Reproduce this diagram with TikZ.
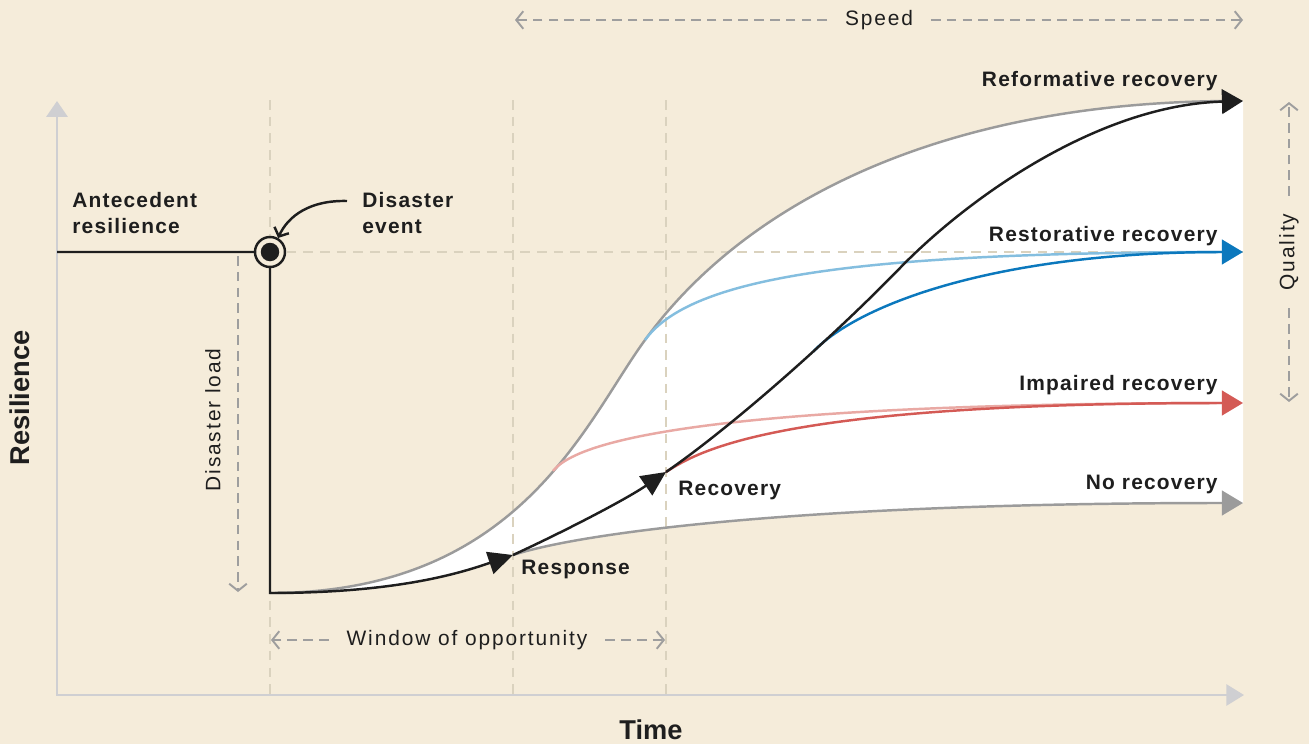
\documentclass[tikz,border=0pt]{standalone}
\usepackage{fontspec}
\setmainfont{Liberation Sans}
\newfontfamily\labelfont{Liberation Sans}[LetterSpace=5.8]
\newfontfamily\notefont{Liberation Sans}[LetterSpace=9.0]
\usetikzlibrary{arrows.meta,positioning}

\definecolor{paper}{HTML}{F5ECDA}
\definecolor{guidecol}{HTML}{DAD2BE}
\definecolor{axiscol}{HTML}{CFCFD2}
\definecolor{measurecol}{HTML}{9E9E9E}
\definecolor{curvegray}{HTML}{9B9B9B}
\definecolor{ink}{HTML}{1E1E1E}
\definecolor{paleblue}{HTML}{84BEDF}
\definecolor{deepblue}{HTML}{0B78BD}
\definecolor{palered}{HTML}{E9A9A4}
\definecolor{deepred}{HTML}{D45A55}

\tikzset{
  guide/.style={draw=guidecol, line width=1.1pt, dash pattern=on 5.5pt off 4pt},
  measure/.style={draw=measurecol, line width=1.1pt, dash pattern=on 5.5pt off 3.5pt},
  barbout/.style={-{Straight Barb[length=4pt,width=10pt]}},
  endtip/.style={-{Triangle[length=12pt,width=14pt]}},
  midtip/.style={-{Triangle[length=14pt,width=13pt]}},
  trace/.style={line width=1.4pt},
  boldlabel/.style={font=\fontsize{11.9}{14.7}\selectfont\labelfont\bfseries, text=ink, align=left, inner sep=0pt},
  plainlabel/.style={font=\fontsize{11.9}{14.7}\selectfont\notefont, text=ink, inner xsep=10pt, inner ysep=2pt},
  titlelabel/.style={font=\fontsize{15.5}{18}\selectfont\bfseries, text=ink, inner sep=0pt}
}

\begin{document}
\begin{tikzpicture}[x=0.02cm,y=-0.02cm]
\fill[paper] (0,0) rectangle (1309,744);
\useasboundingbox (0,0) rectangle (1309,744);

% key points of the curves
\coordinate (onset) at (270,252);
\coordinate (floor) at (270,593);
\coordinate (resp) at (513,555);
\coordinate (reco) at (666,472);
\coordinate (peak) at (645,340);
\coordinate (pinkoff) at (553,471);
\coordinate (steep) at (900,268);
\coordinate (top) at (1243,101);
\coordinate (restored) at (1243,252);
\coordinate (impaired) at (1243,403);
\coordinate (stalled) at (1243,503);
\path (reco) .. controls (730,428) and (830,340) .. (steep) coordinate[pos=0.63] (blueoff);

% white band between the outer curves
\fill[white] (floor) .. controls (520,593) and (585,422) .. (peak)
  .. controls (745,202) and (943,101) .. (top) -- (stalled)
  .. controls (800,503) and (580,533) .. (resp)
  .. controls (463,572) and (400,593) .. (floor) -- cycle;

% guide lines
\foreach \gx in {270,513,666}
  \draw[guide] (\gx,100) -- (\gx,695);
\draw[guide] (onset) -- (restored);

% axes
\draw[axiscol, line width=1.3pt, arrows={Triangle[length=9pt,width=12pt]-Triangle[length=10pt,width=12pt]}]
  (57,101) -- (57,695) -- (1244,695);

% pale branches
\draw[curvegray, trace, shorten >=5pt] (floor) .. controls (520,593) and (585,422) .. (peak)
  .. controls (745,202) and (943,101) .. (top);
\draw[palered, trace, shorten >=5pt] (pinkoff) .. controls (570,450) and (650,403) .. (impaired);
\draw[paleblue, trace, shorten >=5pt] (peak) .. controls (690,278) and (850,252) .. (restored);

% outcomes
\draw[curvegray, trace, endtip] (resp) .. controls (580,533) and (800,503) .. (stalled);
\draw[deepred, trace, endtip] (reco) .. controls (700,450) and (780,403) .. (impaired);
\draw[deepblue, trace, endtip] (blueoff) .. controls (860,303) and (1000,252) .. (restored);

% main trajectory
\draw[ink, trace, midtip] (57,252) -- (onset) -- (floor) .. controls (400,593) and (463,572) .. (resp);
\draw[ink, trace, midtip] (resp) .. controls (563,532) and (625,500) .. (reco);
\draw[ink, trace, endtip] (reco) .. controls (730,428) and (830,340) .. (steep)
  .. controls (970,196) and (1100,105) .. (top);

% disaster event
\node[circle, draw=ink, fill=paper, line width=1.4pt, minimum size=0.6cm, inner sep=0pt] (event) at (onset) {};
\fill[ink] (event.center) circle (0.185cm);
\node[boldlabel, anchor=west] (evlabel) at (362,213) {Disaster\\event};
\coordinate (evtail) at (347,201);
\draw[ink, line width=1.4pt, -{Straight Barb[length=4pt,width=9pt]}]
  (evtail) .. controls (310,200) and (288,216) .. (event.60);

% labels
\node[boldlabel, anchor=west] (antecedent) at (72,213) {Antecedent\\resilience};
\node[boldlabel, anchor=east] (reform) at (1218,81) {Reformative recovery};
\node[boldlabel, anchor=east] (restor) at (1218,236) {Restorative recovery};
\node[boldlabel, anchor=east] (impair) at (1218,385) {Impaired recovery};
\node[boldlabel, anchor=east] (none) at (1218,484) {No recovery};
\node[boldlabel, anchor=west] (respl) at (521,569) {Response};
\node[boldlabel, anchor=west] (recol) at (678,490) {Recovery};

% measures
\node[plainlabel] (speed) at (879,20) {Speed};
\coordinate (speedL) at (515,20);
\coordinate (speedR) at (1243,20);
\draw[measure, barbout] (speed) -- (speedL);
\draw[measure, barbout] (speed) -- (speedR);

\node[plainlabel] (window) at (467,640) {Window of opportunity};
\coordinate (winL) at (271,640);
\coordinate (winR) at (665,640);
\draw[measure, barbout] (window) -- (winL);
\draw[measure, barbout] (window) -- (winR);

\node[plainlabel, rotate=90] (quality) at (1289,252) {Quality};
\coordinate (qualT) at (1289,102);
\coordinate (qualB) at (1289,402);
\draw[measure, barbout] (quality) -- (qualT);
\draw[measure, barbout] (quality) -- (qualB);

\node[plainlabel, rotate=90] (loadl) at (213,420) {Disaster load};
\coordinate (loadT) at (238,256);
\coordinate (loadB) at (238,592);
\draw[measure, barbout] (loadT) -- (loadB);

% axis titles
\node[titlelabel] (timel) at (651,730) {Time};
\node[titlelabel, rotate=90] (resl) at (20,398) {Resilience};
\end{tikzpicture}
\end{document}
